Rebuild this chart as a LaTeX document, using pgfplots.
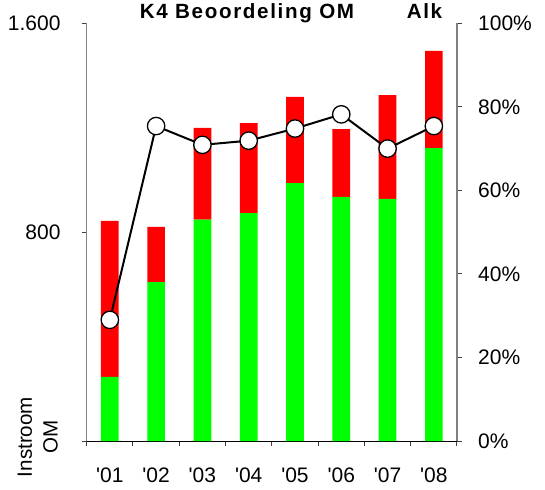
\documentclass[border=0pt]{standalone}
\usepackage{pgfplots}
\pgfplotsset{compat=1.18}
\usepackage{fontspec}
\setmainfont{Liberation Sans}
\newfontfamily\titlefont[LetterSpace=8]{Liberation Sans}

\definecolor{bargreen}{RGB}{0,255,0}
\definecolor{barred}{RGB}{255,0,0}

\begin{document}
\begin{tikzpicture}
\pgfplotsset{
  common/.style={
    scale only axis, width=370.3bp, height=417.7bp,
    xmin=-0.5, xmax=7.5, clip=false,
    tick align=outside, major tick length=5bp,
    tick style={draw=black!75, line width=1bp},
    every tick label/.append style={font=\fontsize{21bp}{24bp}\selectfont},
    y axis line style={draw=gray, line width=1.3bp, -},
  }
}

% bars: Instroom OM
\begin{axis}[common,
  ymin=0, ymax=1600,
  ybar stacked, bar width=17.7bp,
  axis y line*=left, axis x line*=bottom,
  x axis line style={draw=black, line width=1bp, -},
  xtick={-0.5,0.5,...,7.5}, x tick label as interval,
  xticklabels={\textquotesingle01,\textquotesingle02,\textquotesingle03,\textquotesingle04,\textquotesingle05,\textquotesingle06,\textquotesingle07,\textquotesingle08},
  xticklabel style={anchor=north, inner sep=0pt, yshift=-21.5bp},
  ytick={0,800,1600}, yticklabels={,800,1.600},
  yticklabel style={anchor=east, inner sep=0pt, xshift=-21bp},
]
% groen deel
\addplot[fill=bargreen, draw=none] coordinates {
(0,246) (1,609) (2,848) (3,873) (4,988) (5,935) (6,927) (7,1122)
};
% rood deel
\addplot[fill=barred, draw=none] coordinates {
(0,597) (1,211) (2,351) (3,345) (4,330) (5,260) (6,398) (7,372)
};
\end{axis}

% lijn: percentage
\begin{axis}[common,
  ymin=0, ymax=100,
  axis y line*=right, axis x line=none,
  ytick={0,20,...,100},
  yticklabels={0\%,20\%,40\%,60\%,80\%,100\%},
  yticklabel style={anchor=west, inner sep=0pt, xshift=16bp},
]
\addplot[black, line width=2bp, mark=*, mark size=8.7bp,
  mark options={fill=white, draw=black, line width=1.3bp}] coordinates {
(0,29.0) (1,75.4) (2,70.9) (3,71.9) (4,74.8) (5,78.2) (6,70.0) (7,75.4)
};
\end{axis}

\node[anchor=base, font=\titlefont\bfseries\fontsize{20.6bp}{24bp}\selectfont] at (160.3bp,422.7bp) {K4 Beoordeling OM};
\node[anchor=base, font=\titlefont\bfseries\fontsize{20.6bp}{24bp}\selectfont] at (337.8bp,422.7bp) {Alk};
\node[rotate=90, align=center, inner sep=0pt, font=\fontsize{20.6bp}{25.6bp}\selectfont] at (-48.9bp,4bp) {Instroom\\OM};

\pgfresetboundingbox
\path[use as bounding box] (-86.7bp,-49bp) rectangle (458.3bp,441bp);
\end{tikzpicture}
\end{document}
